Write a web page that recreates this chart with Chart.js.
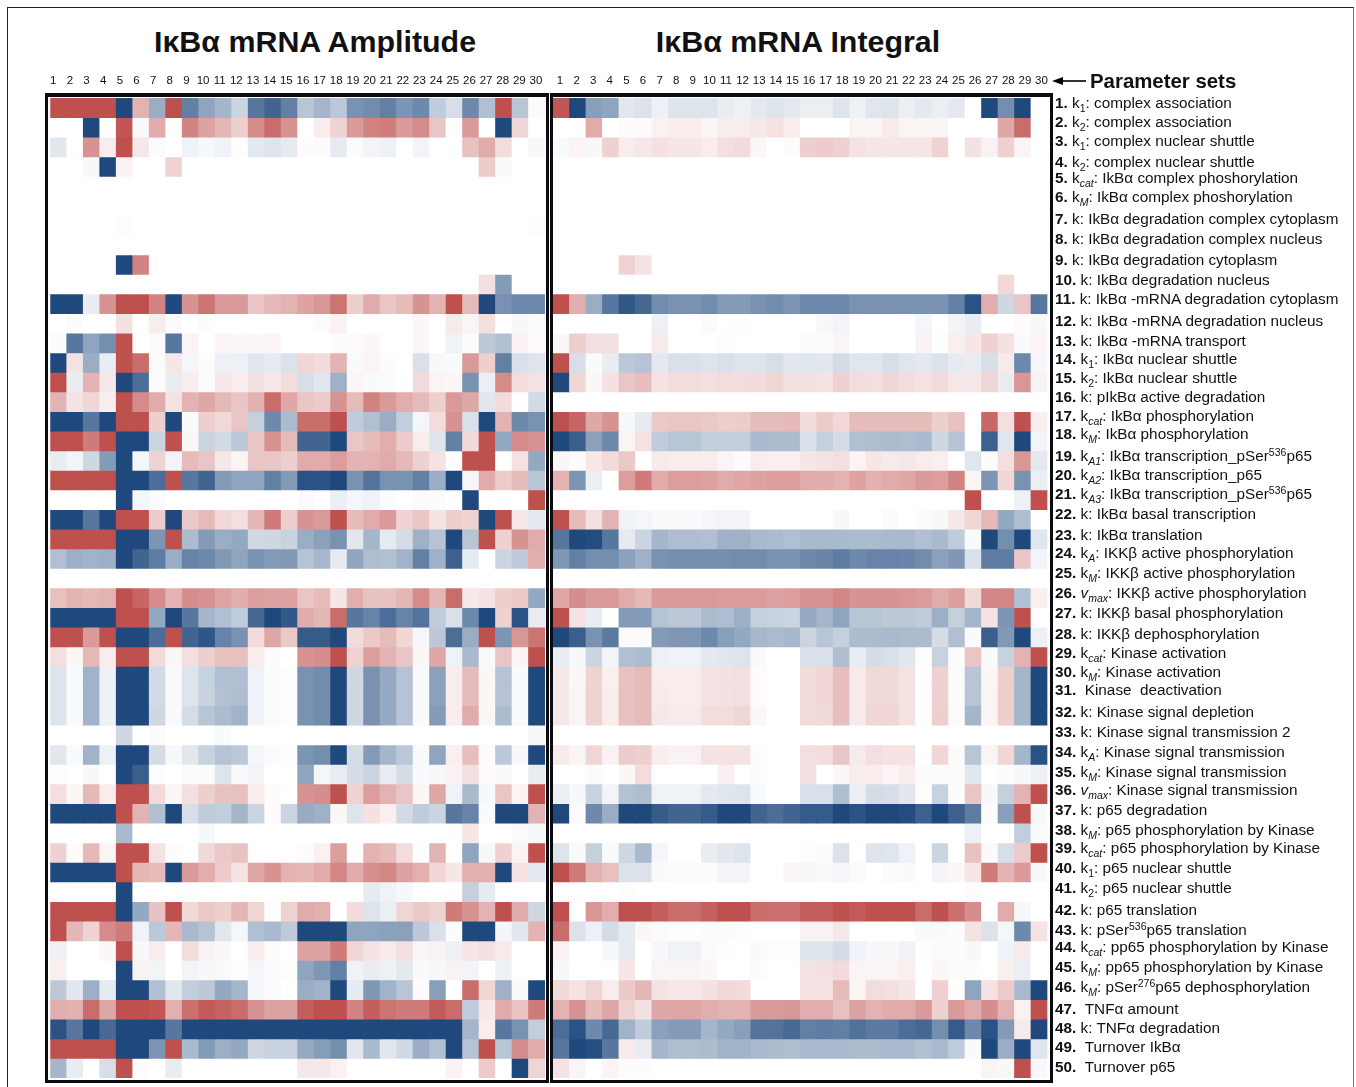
<!DOCTYPE html>
<html lang="en">
<head>
<meta charset="UTF-8">
<title>IκBα mRNA sensitivity heatmaps</title>
<script src="https://cdn.jsdelivr.net/npm/chart.js"></script>
<style>
  html, body { margin: 0; padding: 0; background: #fff; overflow: hidden; }
  body { width: 1356px; height: 1087px; position: relative; font-family: 'Liberation Sans', Arial, sans-serif; color: #111; }
  canvas { position: absolute; }
  .frame { position: absolute; left: 7px; top: 7px; width: 1347px; height: 1090px; border: 1px solid #222; border-right-color: #777; box-sizing: border-box; }
  .title { position: absolute; top: 23px; font-size: 30.4px; line-height: 36px; font-weight: bold; white-space: nowrap; transform: translateX(-50%); }
  .box { position: absolute; top: 93px; height: 990px; box-sizing: border-box; border: 3px solid #0b0b10; border-top-width: 4px; }
  .param { position: absolute; left: 1055px; font-size: 15.3px; line-height: 16px; white-space: nowrap; }
  .param b { font-weight: bold; }
  .param sub { font-size: 10.5px; line-height: 0; vertical-align: -4px; }
  .param sup { font-size: 10.5px; line-height: 0; vertical-align: 5px; }
  .sets { position: absolute; left: 1090px; top: 70px; font-size: 20.4px; line-height: 23px; font-weight: bold; white-space: nowrap; }
  svg { position: absolute; left: 1050px; top: 72px; }
</style>
</head>
<body>
<div class="frame"></div>
<div class="title" style="left:315px">IκBα mRNA Amplitude</div>
<div class="title" style="left:798px">IκBα mRNA Integral</div>
<canvas id="amp" width="520" height="1025" style="left:40px;top:60px"></canvas>
<canvas id="integ" width="515" height="1025" style="left:543px;top:60px"></canvas>
<div class="box" style="left:45px;width:504px"></div>
<div class="box" style="left:550px;width:503px"></div>
<svg width="40" height="18"><line x1="10" y1="9" x2="36" y2="9" stroke="#000" stroke-width="1.6"/><polygon points="2,9 13,5 13,13" fill="#000"/></svg>
<div class="sets">Parameter sets</div>
<div id="params"></div>

<script>
const columns = ['1','2','3','4','5','6','7','8','9','10','11','12','13','14','15','16','17','18','19','20','21','22','23','24','25','26','27','28','29','30'];

const paramLabels = [
  'k<sub>1</sub>: complex association',
  'k<sub>2</sub>: complex association',
  'k<sub>1</sub>: complex nuclear shuttle',
  'k<sub>2</sub>: complex nuclear shuttle',
  'k<sub><i>cat</i></sub>: IkBα complex phoshorylation',
  'k<sub><i>M</i></sub>: IkBα complex phoshorylation',
  'k: IkBα degradation complex cytoplasm',
  'k: IkBα degradation complex nucleus',
  'k: IkBα degradation cytoplasm',
  'k: IkBα degradation nucleus',
  'k: IkBα -mRNA degradation cytoplasm',
  'k: IkBα -mRNA degradation nucleus',
  'k: IkBα -mRNA transport',
  'k<sub>1</sub>: IkBα nuclear shuttle',
  'k<sub>2</sub>: IkBα nuclear shuttle',
  'k: pIkBα active degradation',
  'k<sub><i>cat</i></sub>: IkBα phosphorylation',
  'k<sub><i>M</i></sub>: IkBα phosphorylation',
  'k<sub><i>A1</i></sub>: IkBα transcription_pSer<sup>536</sup>p65',
  'k<sub><i>A2</i></sub>: IkBα transcription_p65',
  'k<sub><i>A3</i></sub>: IkBα transcription_pSer<sup>536</sup>p65',
  'k: IkBα basal transcription',
  'k: IkBα translation',
  'k<sub><i>A</i></sub>: IKKβ active phosphorylation',
  'k<sub><i>M</i></sub>: IKKβ active phosphorylation',
  '<i>v</i><sub><i>max</i></sub>: IKKβ active phosphorylation',
  'k: IKKβ basal phosphorylation',
  'k: IKKβ dephosphorylation',
  'k<sub><i>cat</i></sub>: Kinase activation',
  'k<sub><i>M</i></sub>: Kinase activation',
  '&nbsp;Kinase &nbsp;deactivation',
  'k: Kinase signal depletion',
  'k: Kinase signal transmission 2',
  'k<sub><i>A</i></sub>: Kinase signal transmission',
  'k<sub><i>M</i></sub>: Kinase signal transmission',
  '<i>v</i><sub><i>max</i></sub>: Kinase signal transmission',
  'k: p65 degradation',
  'k<sub><i>M</i></sub>: p65 phosphorylation by Kinase',
  'k<sub><i>cat</i></sub>: p65 phosphorylation by Kinase',
  'k<sub>1</sub>: p65 nuclear shuttle',
  'k<sub>2</sub>: p65 nuclear shuttle',
  'k: p65 translation',
  'k: pSer<sup>536</sup>p65 translation',
  'k<sub><i>cat</i></sub>: pp65 phosphorylation by Kinase',
  'k<sub><i>M</i></sub>: pp65 phosphorylation by Kinase',
  'k<sub><i>M</i></sub>: pSer<sup>276</sup>p65 dephosphorylation',
  '&nbsp;TNFα amount',
  'k: TNFα degradation',
  '&nbsp;Turnover IkBα',
  '&nbsp;Turnover p65'
];

// label centres, the list in the source figure is not evenly spaced
const labelMiddles = [103,122,141,162,178,197,219,239,260,280,299,321,341,359,378,397,416,434,456,475,494,514,535,553,573,593,613,634,653,672,690,712,732,752,772,790,810,830,848,868,888,910,930,947,967,987,1009,1028,1047,1067];

// red is +10, blue is -10
const amplitude = [
  [10,10,10,10,-10,3.5,-4.5,10,-7,-5,-4,-2.3,-7.5,-8.5,-7,-3.2,-4,-3,-6,-6.3,-7,-5.8,-6.5,-2.8,-1.8,-6.5,-3.5,10,-3.2,-0.2],
  [0,0,-10,0,9.5,-0.3,4,0,6.5,4.5,3.3,2,6,8,5.5,0,0.6,1.8,5,6.5,6.8,5,6,2.5,0,5,0,-10,1.7,0],
  [-1.3,0,5.5,0.6,10,0.8,-0.2,0,-0.7,-0.4,-0.7,-0.1,-1.2,-1.5,-1.1,0.1,0.1,-1.1,-0.2,-0.6,-0.8,0,-0.6,0,0,2.7,4,1.3,0,-0.4],
  [0,0,-0.4,-10,0.4,0,0,1.8,0,0,0,0,0,0,0,0,0,0,0,0,0,0,0,0,0,0,2.2,-0.3,0,0],
  [0,0,0,0,0,0,0,0,0,0,0,0,0,0,0,0,0,0,0,0,0,0,0,0,0,0,0,0,0,0],
  [0,0,0,0,0,0,0,0,0,0,0,0,0,0,0,0,0,0,0,0,0,0,0,0,0,0,0,0,0,0],
  [0,0,0,0,-0.1,0,0,0,0,0,0,0,0,0,0,0,0,0,0,0,0,0,0,0,0,0,0,0,0,-0.1],
  [0,0,0,0,0,0,0,0,0,0,0,0,0,0,0,0,0,0,0,0,0,0,0,0,0,0,0,0,0,0],
  [0,0,0,0,-10,6.5,0,0,0,0,0,0,0,0,0,0,0,0,0,0,0,0,0,0,0,0,0,0,0,0],
  [0,0,0,0,0,0,0,0,0,0,0,0,0,0,0,0,0,0,0,0,0,0,0,0,0,0,1.2,-5.5,0,0],
  [-10,-10,-1,5.5,10,10,6.5,-10,5.5,7.5,5,5,2.5,3.2,3.5,4.5,5.2,7.5,2,4,2.5,3,5.5,3.5,10,3,-10,-6,-6.5,-6.5],
  [0,-0.2,0,0,1.1,0,0.6,-0.2,0,0.1,0,0,0,0,0,0,0.1,0.4,0,0,0,0,0.2,0,0.7,0.3,1.2,0,-0.4,-0.2],
  [-0.2,-7.5,-5,-6.2,10,0,-0.2,-7.5,0.3,0,0.3,0.2,0.2,0.3,0,0,0,0.1,0.1,0.2,0,0,0.2,0,-0.7,-0.2,-3,-3.5,0.4,0.1],
  [-10,1,-4.5,-1,10,8,-0.2,0.9,-0.5,0.1,-0.8,-0.8,-1.3,-1.1,-1.6,1.6,1.4,3.5,-0.3,0.3,0.1,0,-1.7,-0.4,-0.3,5,2,-7,-1.7,-1.5],
  [10,-1,3.5,0.8,-10,-8,0.1,-1,0.6,-0.2,0.8,0.6,1.1,0.8,1.3,-1.8,-1.3,-4.3,0.2,-0.3,-0.2,0,1.4,0.3,0.2,-6,-0.9,6,1.3,1],
  [3.5,1,1.6,0.6,10,6,4,1,3.5,4.2,3.2,2.5,3.6,8,4.2,2.5,2.2,5.5,3,6.5,5,3.8,3,2,5,4.2,-1.3,1.4,0,-2],
  [-10,-10,-7.5,-10,10,10,2,-10,-0.3,2,1.5,2.5,-2.6,-6.5,-3.7,8,8,10,-2.8,-3.5,-4.5,-2.7,-0.5,1.3,5.5,-1.7,-10,3.5,-6.5,-6],
  [10,10,7,10,-10,-10,-2.3,10,0.2,-2.3,-2,-3,2.4,5.5,3,-8.5,-8.5,-10,2.5,3,3.8,2.2,0.6,-1.5,-7,1.5,10,-4.8,6,5.5],
  [-1,-0.6,-2.2,-5.5,-10,-0.5,1.8,-0.6,3,2.5,0.8,0.3,2.5,2.5,2,4,4,4.8,3.5,3.5,4,3.2,1.9,1,0,10,10,0,1,-4.8],
  [10,10,10,10,-10,-10,-8,10,-7.5,-8.5,-5.5,-5,-5,-7,-5.5,-9.5,-9.5,-10,-6,-7.7,-6,-6,-7,-4.5,-10,-0.5,4,2.2,3,-3.2],
  [0,0,0,0,-10,-0.5,-0.2,0,0,0,0,0,0,0,0,-0.2,0,-0.9,-0.5,-0.7,-0.2,0,-0.2,-0.2,0,-10,0,0,0,10],
  [-10,-10,-7.5,-10,10,10,2.2,-10,2.3,3,1.5,1.2,3.3,7,2,5.5,5,10,3,4,5,1.8,2.5,1,2,1.8,-10,10,0.8,-1.2],
  [10,10,10,10,-10,-10,-5.8,10,-3.7,-5.5,-4.5,-4.8,-2.1,-2.2,-2.4,-4.5,-5.2,-6,-1.3,-4,-1.1,-1.9,-4.3,-3.3,-10,-3.2,10,1.9,5.5,4],
  [-3.5,-4.4,-4.2,-4.4,-10,-8.5,-7.2,-4.5,-6.8,-6.5,-5.6,-5,-6,-5.5,-5.6,-3.3,-3.9,-1.1,-4.9,-3.6,-3.5,-4.2,-7,-4.3,-8.7,-1.1,0,-2.3,-2.9,3.8],
  [0,0,0,0,0,0,0,0,0,0,0,0,0,0,0,0,0,0,0,0,0,0,0,0,0,0,0,0,0,0],
  [2.8,3.5,3.2,3.5,10,8.5,6,3.5,5.8,5.6,4.4,3.8,4.8,4.5,4.6,2.5,3,0.9,3.8,2.7,2.7,3.3,6,3.3,8,0.8,1,2,2.3,-4.8],
  [-10,-10,-10,-10,10,10,-4.8,-10,-7.5,-4,-3.5,-2.8,-8.3,-10,-9.2,4,3.3,8,-7.5,-6.8,-8,-6.8,-7.7,-2.8,-1.7,-6.5,-10,1.9,-9.5,-1],
  [10,10,5,10,-10,-10,-8,10,-8.5,-9.3,-6.8,-6,1.4,4.3,2.3,-9,-9,-10,1.4,2.3,3,1.6,-0.5,-3,-8,-4.5,10,-5.8,5.3,7.5],
  [1.2,0.2,3.2,0.6,10,10,1.4,0.2,1.2,2,2.7,2.8,0.6,0.1,0,5.5,5.8,10,1.8,4.8,3.5,2.5,0.2,4.2,-0.7,-3.8,-0.3,2.5,0.3,10],
  [-1.5,-0.3,-4.2,-0.8,-10,-10,-2,-0.3,-1.5,-2.5,-3.5,-3.5,-0.7,-0.2,-0.1,-6,-6.3,-10,-2.2,-6,-4.7,-3.3,-0.3,-5.2,0.6,3,0.2,-3.3,-0.3,-10],
  [-1.5,-0.3,-4.2,-0.8,-10,-10,-2,-0.3,-1.5,-2.4,-3.4,-3.6,-0.7,-0.2,-0.1,-6,-6.3,-10,-2.2,-6,-4.7,-3.3,-0.3,-5.2,0.6,3,0.2,-3.3,-0.3,-10],
  [-1.5,-0.3,-4.2,-0.8,-10,-10,-2.2,-0.3,-1.9,-3.2,-3.7,-4.2,-0.7,-0.2,-0.1,-6,-6.3,-10,-2.2,-6,-4.7,-3.3,-0.3,-5.5,0.6,4,0.2,-3.7,-0.3,-10],
  [0,0,0,0,-2.2,0,-0.2,0,0,0,-0.3,0,0,0,0,0,0,0,0,0,0,0,0,0,0,0,0,0,0,-0.4],
  [-1.3,-0.3,-4.2,-0.8,-10,-10,-1.9,-0.4,-1.3,-2.5,-3.3,-3,-0.5,-0.2,-0.1,-5.8,-6.2,-10,-1.9,-5.5,-4,-3,-0.3,-5,0.5,2.9,0.1,-3,-0.4,-10],
  [-0.1,0,-0.4,0,-10,-8.8,-0.1,0,-0.2,-0.2,-1.5,-0.3,-0.6,0,0,-5,-0.5,-1,-1.9,-2.3,-1,-1.9,-0.3,-0.4,0.4,1.2,0.1,-0.3,0,-1],
  [1.2,0.2,3.2,0.6,10,10,1.4,0.2,1.2,2,2.7,2.8,0.6,0.1,0,5.5,5.8,10,1.8,4.8,3.5,2.5,0.2,4.2,-0.7,-3.8,-0.4,2.5,0.3,10],
  [-10,-10,-10,-10,10,3.5,-3.5,-10,-1.8,-2.8,-2.7,-4,-2.3,0.1,-2.3,-4.6,-4.3,0.2,-1.5,1.1,0.5,-2,-2.8,-2.3,-7.5,-6.8,-0.3,-10,-10,3.5],
  [0,0,0,0,-3.8,0,0,0,0,-0.4,0,0,0,0,0,0,0,0,0,0,0,0,0,0,0,0.9,0,0,-0.2,-0.4],
  [1.9,0.1,3.2,0.3,10,10,1,0.1,0,1.5,2.3,2.7,0,0,0,0.1,0.4,4.7,0,3.5,3,1.3,0,3.5,0,-5,-0.4,1.9,0.3,10],
  [-10,-10,-10,-10,10,3.3,3,-10,5,3.8,2.2,1,4.3,5.5,3.5,3.3,4,6.3,4,5.7,6.2,4.5,3.7,1.6,0.9,3.7,3.7,-10,1,-1.2],
  [0,0,0,0,-10,0,0,0,-0.1,0,0,0,0,0,0,0,0,0,0,-1.1,-0.7,-0.4,0,0,0,-2.6,-1.1,0,0,0],
  [10,10,10,10,-10,-4.8,2.7,10,1.5,2.3,2,3.3,1.7,-0.1,1.8,4,3.7,0,1.4,-1.5,-0.9,1.7,2.3,1.8,7,5.5,3.5,10,4,-2.2],
  [10,3.3,1.8,6,7,-0.7,-3,3.3,-3.8,-3.3,-1.3,-0.5,-3.5,-3.8,-2.9,-10,-10,-10,-5,-5,-5.2,-5.2,-3,-1.7,0.1,-10,-10,-0.5,-1.3,3.5],
  [-0.8,0,0,0.2,10,-0.4,0.6,0,1.3,0.4,0.2,0,0.6,0.1,0,4.5,4.5,7,1.6,1,0.7,1.2,0.3,0.4,-0.8,0.9,1.1,0.7,0,0],
  [0.5,0,0,0,-10,0.4,-0.6,0,-0.6,-0.4,-0.3,-0.1,-0.5,-0.2,-0.1,-5,-5.7,-7,-0.7,-1,-0.8,-1.2,-0.3,-0.4,0.4,-0.6,0,-0.8,0,0],
  [-3,-1.3,-4.4,-1.1,-10,-10,-3.5,-1.3,-2.7,-3,-4.8,-4,-0.5,-0.2,0,-4.5,-4.2,-10,-1.1,-5.7,-4.2,-3.2,0.1,-5.3,0,8,1.7,-4.3,-0.3,-10],
  [3.8,3.6,8,4.3,10,10,9.5,3.7,7.8,9.2,8.7,8,5.5,4.5,4.5,9,10,10,6.5,9,7.5,7,7,9.2,8,-2.8,0.8,4,2.6,7],
  [-9.5,-7.5,-10,-8.2,-10,-10,-10,-7.5,-10,-10,-10,-10,-10,-10,-10,-10,-10,-10,-10,-10,-10,-10,-10,-10,-10,-4,0.6,-7.5,-6,-2.7],
  [10,10,10,10,-10,-10,-5.8,10,-3.8,-5.5,-4.4,-4.8,-2.2,-2.4,-2.4,-4.7,-5.4,-6.2,-1.3,-3.8,-1.3,-2.1,-4.5,-3.5,-10,-3.3,10,-3.2,5.8,4],
  [-4,-1,0,-1.8,10,0.1,0,-1,0,0,0,0,0,0,0,0.8,0.8,0.4,0,0,0,0,0,0,0.4,0,2.2,0,-10,1.7]
];

const integral = [
  [9.5,-10,-5.3,-5,-1.3,-1.6,-0.8,-1.5,-1.5,-1.5,-1,-0.8,-1.2,-1.5,-1.2,-0.9,-0.9,-1.5,-0.8,-1.4,-1.5,-0.9,-1.2,-0.9,-1.2,0,-10,-6.2,-10,0],
  [0,0,4,0,0.1,0.1,0.4,0.6,0.6,0.3,0.6,0.6,0.8,1,0.6,0,0,0,0.3,0.3,0.7,0.3,0.3,0.3,0,0,0,4.2,8,0],
  [-0.3,0.3,-0.4,1.9,0.6,0.8,1.1,0.9,0.9,0.6,1.2,1.4,0.2,0,0.1,2,2.2,1.9,1,0.9,0.9,0.9,0.9,1.8,0,1.1,0.4,1.9,0.3,0],
  [0,0,0,0,0,0,0,0,0,0,0,0,0,0,0,0,0,0,0,0,0,0,0,0,0,0,0,0,0,0],
  [0,0,0,0,0,0,0,0,0,0,0,0,0,0,0,0,0,0,0,0,0,0,0,0,0,0,0,0,0,0],
  [0,0,0,0,0,0,0,0,0,0,0,0,0,0,0,0,0,0,0,0,0,0,0,0,0,0,0,0,0,0],
  [0,0,0,0,0,0,0,0,0,0,0,0,0,0,0,0,0,0,0,0,0,0,0,0,0,0,0,0,0,0],
  [0,0,0,0,0,0,0,0,0,0,0,0,0,0,0,0,0,0,0,0,0,0,0,0,0,0,0,0,0,0],
  [0,0,0,0,1.8,1,0,0,0,0,0,0,0,0,0,0,0,0,0,0,0,0,0,0,0,0,0,0,0,0],
  [0,0,0,0,0,0,0,0,0,0,0,0,0,0,0,0,0,0,0,0,0,0,0,0,0,0,0,1.5,0,0],
  [10,3.8,-4.5,-7.5,-9.2,-8.3,-6.3,-6,-6,-6.3,-5.5,-5.5,-6,-6.3,-5.8,-6.5,-6.5,-6.5,-6,-6,-6,-6,-6,-6,-7,-9.5,3.8,-2.2,2.5,-7.5],
  [0,0,0,0,0,0,-0.8,0,0,-0.2,0,-0.1,0,0,0,0,-0.4,-0.6,0,0,0,0,-0.5,0,-0.6,-1,0,0,0.1,-0.4],
  [0.2,2,1.2,1.2,0,0,0.7,0,0,0,-0.1,0,0,0,0,0.1,0.1,0.3,0,0,0,0,0.4,-0.1,0.5,0.9,1.9,1.1,-0.3,0.3],
  [10,-1.8,-0.3,-1,-3,-3.3,-1.2,-1.7,-1.7,-1.5,-1.7,-1.5,-1.5,-1.8,-1.3,-1.4,-1.3,-1.9,-1.4,-1.4,-1.8,-1.4,-1.2,-1.6,-1.1,-1,-1.8,0.7,-6.5,-0.5],
  [-10,1.7,0.2,1.1,2.5,2.9,1,1.3,1.3,1.2,1.3,1.3,1.4,1.6,1.1,1.2,1,1.9,1.3,1.2,1.6,1.3,1,1.4,0.8,0.8,1.7,-1,5.3,0.4],
  [0,0,0,0,0,0,0,0,0,0,0,0,0,0,0,0,0,0,0,0,0,0,0,0,0,0,0,0,0,0],
  [10,8.5,4.2,5.5,-0.4,-1.1,2.3,2.5,2.5,2.3,2,2.1,3,3,3.2,1.4,2.2,1.5,3,3,3,3,3,2,2.7,0,8.3,1.2,10,0.5],
  [-10,-8.8,-5.2,-6.5,0.3,1,-2.8,-3.2,-3.2,-2.7,-2.7,-2.7,-3.8,-3.7,-3.7,-1.7,-2.6,-1.9,-3.5,-3.6,-3.7,-3.6,-3.8,-2.2,-3.3,0,-8.7,-1.4,-10,-0.6],
  [0.2,0.1,0.8,1.4,2.3,0,0.7,0.6,0.6,0.6,0.3,0.1,0.6,0.5,0.5,0.9,1,1.2,0.3,0.9,0.7,0.8,0.6,0.5,0,-1.4,0.1,1.2,5.3,-1.2],
  [3.5,-5.8,-0.9,0,4.8,7,4,4.8,4.8,4.6,4,4.3,4.5,4.8,4.8,4,4,3.5,4.5,3.7,4,4.2,5,4.8,6.5,0.3,-5.8,1.6,-6,-0.9],
  [0,0,0,0,0,0,0,0,0,0,0,0,0,0,0,0,0,0,0,0,0,0,0,0,0,10,0,0,-0.8,10],
  [10,3,1.2,3.5,-0.7,-0.5,-0.3,-0.3,-0.3,-0.5,-0.6,-0.6,0,0,0,0,0,-0.4,0,0,-0.2,0,0.1,-0.4,0.8,1.6,3.2,-4.8,-3.6,0],
  [-7.5,-10,-9.8,-7.5,-1.1,-2.3,-4,-3.6,-3.6,-3.5,-4.3,-4.3,-3.8,-3.7,-3.5,-3.8,-3.8,-3.8,-3.7,-3.7,-3.8,-3.8,-3.5,-3.8,-2.8,-0.3,-10,-6.2,-10,-1.4],
  [-5.7,-7,-6.2,-6.2,-5.2,-4.3,-6,-6.2,-6.2,-6.2,-6.2,-6.3,-6.3,-6,-6,-6.5,-6.7,-7.2,-6.5,-6.8,-6.8,-6.7,-6.3,-5.2,-5.7,-1.7,-7.2,-7.2,2.5,-0.6],
  [0,0,0,0,0,0,0,0,0,0,0,0,0,0,0,0,0,0,0,0,0,0,0,0,0,0,0,0,0,0],
  [4.2,5.8,5,5,4,3.2,5,5,5,5.1,4.9,4.9,4.9,4.6,4.8,5.5,5.5,6.3,5.5,5.5,5.5,5.3,4.9,4,4.7,1.5,6.3,6.3,-3.5,0.5],
  [10,1,-1,0,-5.5,-5.5,-3.3,-3,-3,-3.7,-3.6,-4.4,-2.6,-2.5,-2.3,-4.7,-4,-5,-3.2,-3.2,-3,-3,-2.8,-4.4,-2.6,-4,1,-5.8,10,0],
  [-10,-8.8,-6,-7.3,-0.2,-0.2,-5.5,-5.7,-5.7,-6.5,-5.3,-4.8,-3.9,-3.7,-3.9,-2.3,-3.2,-2.6,-3.7,-3.7,-3.8,-3.7,-3.7,-1.9,-3.5,-0.3,-8.8,-5.6,-10,-0.8],
  [-1,-0.4,-2.3,-0.6,-3.5,-3.7,-0.8,-0.7,-0.7,-1.2,-1.4,-1.5,-0.3,0,0,-1.7,-1.7,-3.6,-1,-1.9,-1.7,-1.3,-0.1,-2.5,0.1,2.5,-0.3,-2.4,3.5,10],
  [0.8,0.2,1.8,0.5,2.7,3,0.6,0.6,0.6,1,1.1,1.2,0.1,0,0,1.4,1.6,2.9,0.7,1.5,1.5,1,0,1.9,-0.2,-3.2,0.2,2,-4,-10],
  [0.8,0.3,1.8,0.6,2.7,3,0.7,0.6,0.6,1,1.1,1.2,0.1,0,0,1.4,1.6,2.9,0.7,1.5,1.5,1,0,1.9,-0.2,-3.2,0.3,2,-4,-10],
  [0.8,0.3,1.8,0.6,2.7,3,0.8,0.7,0.7,1.3,1.3,1.6,0.2,0,0,1.4,1.5,2.9,0.7,1.6,1.6,1,0,2,-0.2,-4,0.3,2,-4,-10],
  [0,0,0,0,0,0,0,0,0,0,0,0,0,0,0,0,0,0,0,0,0,0,0,0,0,0,0,0,0,0],
  [0.7,0.3,1.6,0.4,2.2,2,0.6,0.4,0.4,1,1,1,0.1,0,0,1.2,1.3,2.5,0.7,1.2,1,1,0,1.6,-0.2,-3.2,0.3,1.6,-4,-9.5],
  [0,0,0.1,0,0.2,1.3,0,0,0,0,0.5,0,0.1,0,0,1.2,0,0.2,0.6,0.6,0.3,0.6,0.1,0.1,-0.2,-1.3,0,0.1,-0.4,-0.8],
  [-0.9,-0.4,-2.4,-0.6,-3.4,-3.6,-0.7,-0.7,-0.7,-1.2,-1.4,-1.5,-0.3,0,0,-1.7,-1.7,-3.6,-0.9,-1.9,-1.8,-1.3,-0.1,-2.5,0.1,2.5,-0.4,-2.6,3.5,10],
  [-10,0.1,-6.5,-4.5,-10,-10,-9,-8.5,-8.5,-9,-10,-10,-8.5,-8,-8.5,-9,-9,-10,-9.5,-10,-10,-9.8,-8.7,-10,-8.7,-7.2,0.1,-5.3,10,-0.4],
  [0,0,0,0,0,0,0,0,0,0,0,0,0,0,0,0,0,0,0,0,0,0,0,0,0,-0.8,0,0,-2.7,-0.3],
  [-1.5,-0.3,-2.6,-0.3,-2.2,-3.8,-0.5,0,0,-1,-1.3,-1.5,0,0,0,-0.1,-0.2,-1.6,0,-1.5,-1.4,-0.7,0,-2.3,0,2.7,-0.3,-1.8,2.2,10],
  [10,7,3.5,2.8,-1.6,-1.6,-0.3,-0.2,-0.2,0.1,-0.6,-0.6,0,0,0.2,-0.4,-0.3,-0.5,-0.2,0,-0.2,-0.3,0,-0.6,0.2,0.9,7,3.5,5,-0.4],
  [0,0,0,0,-0.1,0,0,0,0,0,0,0,0,0,0,0,0,0,0,0,0,0,0,0,0,0.1,0,0,0,0],
  [10,0,5.3,3.8,10,10,9,8,8,8.8,10,10,8,7.7,7.8,9,9,10,9.3,10,10,10,8,10,7.8,5.8,0,4,-0.4,0],
  [8,-1.6,-0.8,-1.9,-1.1,0.2,-0.2,-0.1,-0.1,-0.2,-0.2,-0.1,0,0,0,0.4,0.4,0.8,0,0,0,0,-0.3,-0.3,0.1,1,-1.6,-0.5,-6.5,1],
  [0.4,0,0,-0.4,-1.1,0,-0.4,-0.7,-0.7,-0.2,-0.1,0,-0.3,-0.1,-0.1,-1.5,-1.5,-1.9,-0.7,-0.4,-0.4,-0.7,-0.1,-0.2,0.1,-0.4,0,-0.7,0.7,0],
  [-0.4,0,0,0,0.9,0,0.3,0.3,0.3,0.2,0,0,0.1,0,0,1,1.1,1.4,0.3,0.3,0.3,0.5,0,0.2,-0.2,0.1,0,0.5,-0.9,0],
  [1.5,1,1.7,0.6,2.3,3.3,1,0.8,0.8,1.1,1.5,1.4,0,0,0,1,1,3,0.3,1.3,1.2,0.9,0,1.9,0,-5,1,2.2,-3.8,-10],
  [3.5,5.5,3,4.3,1.8,1.1,4.2,4.3,4.3,3.8,3.5,3.5,5,5,5.2,3.8,3.8,2.8,4.5,3.5,4,4,5,1.9,5,4,5.8,3.5,0.4,10],
  [-8,-9.5,-6.5,-8.2,-4.2,-2.8,-5.2,-5.5,-5.5,-4,-4.8,-5.3,-7.7,-7.7,-8.2,-7,-7.2,-7,-7.8,-7.3,-7.3,-8,-8.3,-6.2,-9,-6.5,-9.5,-5.5,0.7,-10],
  [-7.5,-10,-9.7,-7.5,0.7,-1,-4,-3.6,-3.6,-3.7,-4.2,-4.2,-3.8,-3.7,-3.6,-3.8,-3.8,-3.8,-3.7,-3.7,-3.8,-3.8,-3.5,-3.8,-2.8,-0.3,-10,-4.5,-10,-1.4],
  [1,0.3,0,0.3,0.1,0.1,0,0,0,0,0,0,0,0,0,0,0,0,0,0,0,0,0,0,0,0,0.3,0.2,10,-0.4]
];

const RED = [190, 80, 78];
const BLUE = [31, 73, 125];

function cellColor(v) {
  const base = v >= 0 ? RED : BLUE;
  const x = Math.min(Math.abs(v) / 10, 1);
  // red mid tones in the figure run darker than a straight ramp, blue ones do not
  const t = v >= 0 ? Math.pow(x, 0.8) : x;
  const c = base.map(b => Math.round(255 + (b - 255) * t));
  return `rgb(${c[0]},${c[1]},${c[2]})`;
}

function heatmap(id, rows, tickMin, tickMax) {
  new Chart(document.getElementById(id), {
    type: 'bar',
    data: {
      labels: columns,
      // one stacked dataset per parameter row, every segment one row tall
      datasets: rows.map((row, i) => ({
        label: 'Parameter ' + (i + 1),
        data: row.map(() => 1),
        backgroundColor: row.map(cellColor),
        barPercentage: 1,
        categoryPercentage: 1
      }))
    },
    options: {
      responsive: false,
      animation: false,
      layout: { padding: { left: 10, right: id === 'amp' ? 15 : 10, bottom: 7 } },
      plugins: { legend: { display: false }, tooltip: { enabled: false } },
      scales: {
        x: { stacked: true, display: false },
        y: { stacked: true, display: false, reverse: true, min: 0, max: 50 },
        // parameter set numbers, they sit a little left of their columns in the figure
        numbers: {
          type: 'linear',
          axis: 'x',
          position: 'top',
          offset: false,
          min: tickMin,
          max: tickMax,
          grid: { display: false, drawTicks: false, offset: false },
          border: { display: false },
          afterFit: axis => { axis.height = 38; },
          afterBuildTicks: axis => { axis.ticks = columns.map((c, i) => ({ value: i + 1 })); },
          ticks: {
            autoSkip: false,
            maxRotation: 0,
            padding: 10,
            color: '#111',
            font: { family: "'Liberation Sans', Arial, sans-serif", size: 11.5 },
            callback: v => columns[v - 1]
          }
        }
      }
    }
  });
}

heatmap('amp', amplitude, 0.82, 30.54);
heatmap('integ', integral, 0.58, 30.36);

const params = document.getElementById('params');
paramLabels.forEach((text, i) => {
  const d = document.createElement('div');
  d.className = 'param';
  d.style.top = (labelMiddles[i] - 8) + 'px';
  d.innerHTML = '<b>' + (i + 1) + '.</b> ' + text;
  params.appendChild(d);
});
</script>
</body>
</html>
